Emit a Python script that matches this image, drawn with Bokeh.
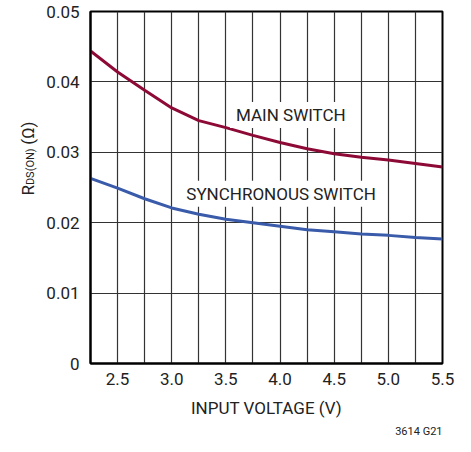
from bokeh.plotting import figure
from bokeh.models import FixedTicker, Label, Range1d, Title
from bokeh.layouts import row
from bokeh.embed import file_html
from bokeh.resources import INLINE
import math

FONT = "Roboto"

voltage = [2.25, 2.5, 2.75, 3.0, 3.25, 3.5, 3.75, 4.0, 4.25, 4.5, 4.75, 5.0, 5.25, 5.5]
main_switch = [0.0444, 0.0414, 0.0388, 0.0363, 0.0345, 0.0335, 0.0324, 0.0314, 0.0305, 0.0298, 0.0293, 0.0289, 0.0284, 0.0279]
sync_switch = [0.0263, 0.0249, 0.0234, 0.0221, 0.0212, 0.0205, 0.0200, 0.0195, 0.0190, 0.0187, 0.0184, 0.0182, 0.0179, 0.0177]

x_ticks = [2.5, 3.0, 3.5, 4.0, 4.5, 5.0, 5.5]
x_tick_labels = ["2.5", "3.0", "3.5", "4.0", "4.5", "5.0", "5.5"]
x_grid = [2.5, 2.75, 3.0, 3.25, 3.5, 3.75, 4.0, 4.25, 4.5, 4.75, 5.0, 5.25]
y_ticks = [0, 0.01, 0.02, 0.03, 0.04, 0.05]
y_tick_labels = ["0", "0.01", "0.02", "0.03", "0.04", "0.05"]
y_grid = [0.01, 0.02, 0.03, 0.04]

H = 444
LW = 40          # width of the strip holding the y-axis title
W = 415

# ---- strip with the rotated y-axis title ----
lab = figure(width=LW, height=H, output_backend="svg", toolbar_location=None,
             x_range=Range1d(0, LW), y_range=Range1d(0, H),
             x_axis_location=None, y_axis_location=None,
             min_border=0)
lab.outline_line_color = None
lab.grid.visible = False
lab.background_fill_color = "white"
lab.border_fill_color = "white"
lab.add_layout(Label(x=27, y=H - 232, text="R",
                     angle=math.pi / 2, text_font=FONT, text_font_size="17px",
                     text_color="#222222", text_align="left", text_baseline="middle"))
lab.add_layout(Label(x=30, y=H - 219, text="DS(ON)",
                     angle=math.pi / 2, text_font=FONT, text_font_size="11px",
                     text_color="#222222", text_align="left", text_baseline="middle"))
lab.add_layout(Label(x=27, y=H - 168, text="(\u03a9)",
                     angle=math.pi / 2, text_font=FONT, text_font_size="17px",
                     text_color="#222222", text_align="left", text_baseline="middle"))

# ---- main chart ----
p = figure(width=W, height=H, output_backend="svg", toolbar_location=None,
           x_range=Range1d(2.25, 5.5), y_range=Range1d(0, 0.05),
           min_border_left=90 - LW, min_border_right=13, min_border_top=11, min_border_bottom=81)

p.outline_line_color = "black"
p.outline_line_width = 2
p.background_fill_color = "white"
p.border_fill_color = "white"

p.xgrid.ticker = FixedTicker(ticks=x_grid)
p.ygrid.ticker = FixedTicker(ticks=y_grid)
for g in (p.xgrid, p.ygrid):
    g.grid_line_color = "#333333"
    g.grid_line_width = 1.2

p.xaxis.ticker = FixedTicker(ticks=x_ticks)
p.xaxis.major_label_overrides = dict(zip(x_ticks, x_tick_labels))
p.yaxis.ticker = FixedTicker(ticks=y_ticks)
p.yaxis.major_label_overrides = dict(zip(y_ticks, y_tick_labels))
for ax in (p.xaxis, p.yaxis):
    ax.axis_line_color = "black"
    ax.axis_line_width = 2
    ax.major_tick_in = 0
    ax.major_tick_out = 0
    ax.minor_tick_in = 0
    ax.minor_tick_out = 0
    ax.major_label_text_font = FONT
    ax.major_label_text_font_size = "17px"
    ax.major_label_text_color = "#222222"
p.yaxis.major_label_standoff = 11
p.xaxis.major_label_standoff = 9
p.xaxis.axis_label = "INPUT VOLTAGE (V)"
p.xaxis.axis_label_text_font = FONT
p.xaxis.axis_label_text_font_size = "17px"
p.xaxis.axis_label_text_font_style = "normal"
p.xaxis.axis_label_text_color = "#222222"
p.xaxis.axis_label_standoff = 10

p.line(voltage, main_switch, line_color="#8E0A36", line_width=3)
p.line(voltage, sync_switch, line_color="#3A5BAA", line_width=3)

p.add_layout(Label(x=4.1, y=0.0353, text="MAIN SWITCH", text_font=FONT,
                   text_font_size="17px", text_color="#222222",
                   text_align="center", text_baseline="middle",
                   background_fill_color="white", padding=(6, 3)))
p.add_layout(Label(x=4.01, y=0.0241, text="SYNCHRONOUS SWITCH", text_font=FONT,
                   text_font_size="17px", text_color="#222222",
                   text_align="center", text_baseline="middle",
                   background_fill_color="white", padding=(6, 3)))

p.add_layout(Title(text="3614 G21", align="right", text_font=FONT,
                   text_font_size="11px", text_font_style="normal",
                   text_color="#222222", standoff=4), "below")

layout = row(lab, p, spacing=0)
open("out.html", "w").write(file_html(layout, INLINE))
